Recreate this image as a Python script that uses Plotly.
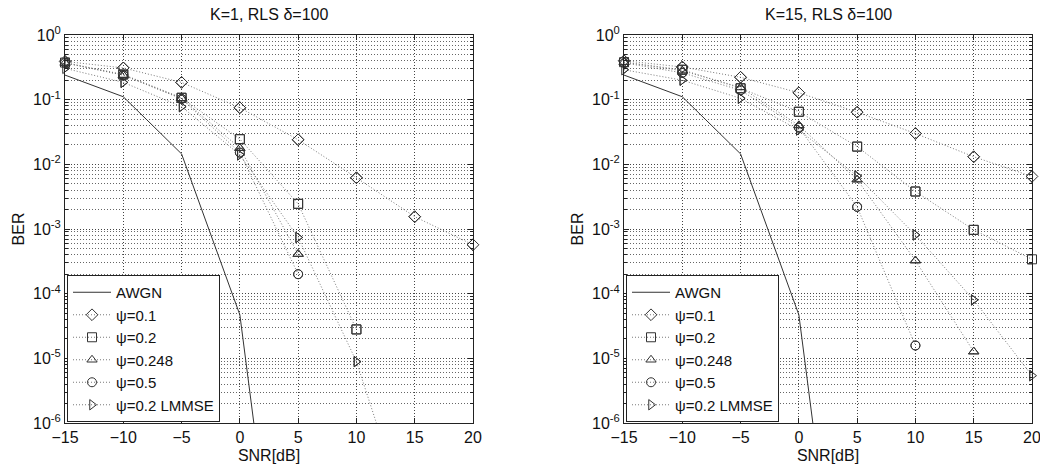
import plotly.graph_objects as go

snr = [-15, -10, -5, 0, 5, 10, 15, 20]
awgn_snr = [-15, -10, -5, 0, 5]
awgn_ber = [0.24, 0.111, 0.0145, 4.7e-5, 5e-12]

# K=1 panel
k1_psi01 = [0.39, 0.31, 0.185, 0.075, 0.024, 0.0062, 0.00155, 5.7e-4]
k1_psi02 = [0.375, 0.245, 0.107, 0.0245, 0.00245, 2.8e-5]
k1_psi0248 = [0.37, 0.24, 0.105, 0.0178, 4.1e-4]
k1_psi05 = [0.37, 0.24, 0.103, 0.0152, 2.0e-4]
k1_lmmse = [0.305, 0.185, 0.078, 0.014, 7.4e-4, 8.9e-6, 1.5e-8]

# K=15 panel
k15_psi01 = [0.40, 0.32, 0.222, 0.128, 0.064, 0.030, 0.0131, 0.0065]
k15_psi02 = [0.38, 0.29, 0.15, 0.065, 0.0188, 0.0038, 9.7e-4, 3.4e-4]
k15_psi0248 = [0.38, 0.28, 0.155, 0.040, 0.0058, 3.25e-4, 1.27e-5]
k15_psi05 = [0.37, 0.26, 0.14, 0.037, 0.0022, 1.58e-5]
k15_lmmse = [0.29, 0.20, 0.105, 0.034, 0.0066, 8.1e-4, 8.0e-5, 5.4e-6]

titles = ["K=1, RLS δ=100", "K=15, RLS δ=100"]
names = ["AWGN", "ψ=0.1", "ψ=0.2", "ψ=0.248", "ψ=0.5", "ψ=0.2 LMMSE"]
symbols = ["diamond-open", "square-open", "triangle-up-open", "circle-open", "triangle-right-open"]
ytick_vals = [1e-6, 1e-5, 1e-4, 1e-3, 1e-2, 1e-1, 1]
ytick_text = ["10<sup>-6</sup>", "10<sup>-5</sup>", "10<sup>-4</sup>", "10<sup>-3</sup>",
              "10<sup>-2</sup>", "10<sup>-1</sup>", "10<sup>0</sup>"]
xtick_vals = [-15, -10, -5, 0, 5, 10, 15, 20]

panels = [
    [k1_psi01, k1_psi02, k1_psi0248, k1_psi05, k1_lmmse],
    [k15_psi01, k15_psi02, k15_psi0248, k15_psi05, k15_lmmse],
]

W, H = 1040, 470
FONT = "Liberation Sans, Arial, sans-serif"
TXT = "#111111"
fig = go.Figure()

xdoms = [[65 / W, 473 / W], [624 / W, 1032 / W]]
ydom = [47 / H, 435 / H]
YMIN = 1e-6

minor_vals = [k * 10.0 ** e for e in range(-6, 0) for k in range(2, 10)]

for p, series in enumerate(panels):
    ax = "" if p == 0 else "2"
    leg = "legend" if p == 0 else "legend2"
    fig.add_trace(go.Scatter(
        x=awgn_snr, y=awgn_ber, name=names[0], mode="lines",
        line=dict(color="#333333", width=1),
        xaxis="x" + ax, yaxis="y" + ax, legend=leg))
    for i, vals in enumerate(series):
        mk = dict(symbol=symbols[i], size=9, color="#333333",
                  line=dict(width=1, color="#333333"))
        xs = snr[:len(vals)]
        fig.add_trace(go.Scatter(
            x=xs, y=vals, name=names[i + 1], mode="lines+markers",
            line=dict(color="#7a7a7a", width=1, dash="1px,2px"),
            marker=mk, cliponaxis=True, legendgroup=f"{p}-{i}",
            xaxis="x" + ax, yaxis="y" + ax, legend=leg))
        # full (unclipped) markers for the points that lie inside the axes
        inx = [x for x, v in zip(xs, vals) if v >= YMIN]
        iny = [v for v in vals if v >= YMIN]
        fig.add_trace(go.Scatter(
            x=inx, y=iny, name=names[i + 1], mode="markers", marker=mk,
            cliponaxis=False, showlegend=False, legendgroup=f"{p}-{i}",
            xaxis="x" + ax, yaxis="y" + ax, legend=leg))

    common_axis = dict(showline=True, linecolor="#222222", linewidth=1, mirror="ticks",
                       ticks="inside", ticklen=5, tickcolor="#222222", automargin=False,
                       ticklabeloverflow="allow",
                       showgrid=True, gridcolor="#444444", gridwidth=1, griddash="1px,2px",
                       zeroline=False, tickfont=dict(size=16, family=FONT, color=TXT))
    xa = dict(common_axis, domain=xdoms[p], anchor="y" + ax, range=[-15, 20],
              tickmode="array", tickvals=xtick_vals,
              title=dict(text="SNR[dB]", font=dict(size=16, family=FONT, color=TXT), standoff=4))
    ya = dict(common_axis, domain=ydom, anchor="x" + ax, type="log", range=[-6, 0],
              tickmode="array", tickvals=ytick_vals, ticktext=ytick_text,
              minor=dict(tickmode="array", tickvals=minor_vals, showgrid=True,
                         gridcolor="#666666", griddash="1px,2px", gridwidth=1,
                         ticks="inside", ticklen=3, tickcolor="#222222"),
              title=dict(text="BER", font=dict(size=16, family=FONT, color=TXT), standoff=4))
    fig.update_layout(**{"xaxis" + ax: xa, "yaxis" + ax: ya})
    fig.add_annotation(text=titles[p], x=(xdoms[p][0] + xdoms[p][1]) / 2, y=(H - 15) / H,
                       xref="paper", yref="paper", showarrow=False,
                       font=dict(size=16, family=FONT, color=TXT),
                       xanchor="center", yanchor="middle")
    legend_cfg = dict(x=(xdoms[p][0] * W + 2) / W, y=(47 + 1) / H, xanchor="left", yanchor="bottom",
                      bgcolor="white", bordercolor="#222222", borderwidth=1,
                      font=dict(size=15, family=FONT, color=TXT), itemwidth=38,
                      tracegroupgap=0, traceorder="normal")
    fig.update_layout(**{leg: legend_cfg})

fig.update_layout(width=W, height=H, margin=dict(l=0, r=0, t=0, b=0, autoexpand=False),
                  paper_bgcolor="white", plot_bgcolor="white", showlegend=True,
                  font=dict(family=FONT))

fig.write_html("out.html", config={"displayModeBar": False},
               post_script="document.body.style.margin='0px';")
